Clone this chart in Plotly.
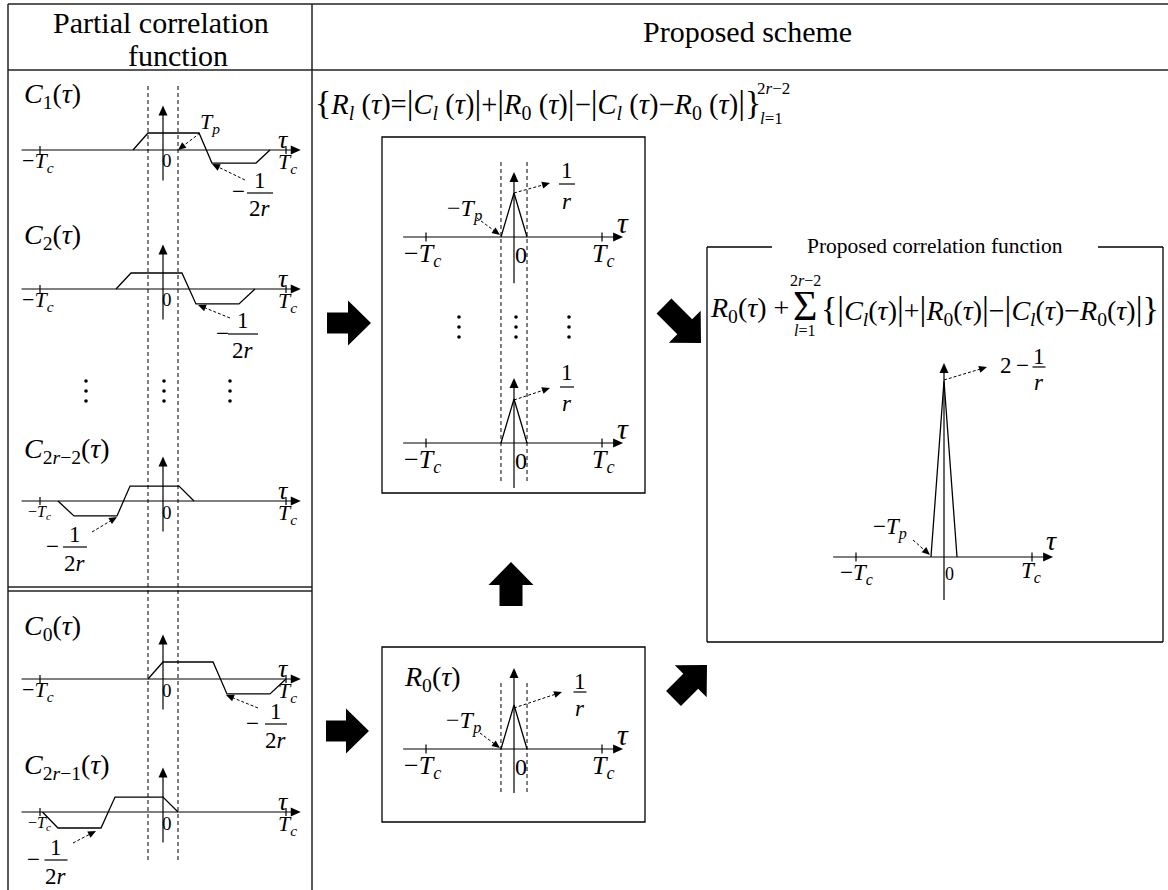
import plotly.graph_objects as go

W, H = 1168, 890
SERIF = "Liberation Serif, Times New Roman, serif"

# ---------------- data (tau in units of Tc, amplitude in arbitrary units) ----------------
tick_tau = [-1, 1]
Tp_left = 0.122
Tp_mid = 0.148

tau_C1 = [-0.244, -0.122, 0.293, 0.398, 0.756, 0.870]
amp_C1 = [0, 1.0, 1.0, -0.77, -0.77, 0]
tau_C2 = [-0.382, -0.260, 0.154, 0.268, 0.618, 0.748]
amp_C2 = [0, 0.94, 0.94, -0.88, -0.88, 0]
tau_C2r2 = [-0.854, -0.724, -0.374, -0.268, 0.130, 0.252]
amp_C2r2 = [0, -0.88, -0.88, 0.88, 0.88, 0]
tau_C0 = [-0.122, 0.0, 0.407, 0.520, 0.870, 1.0]
amp_C0 = [0, 1.0, 1.0, -0.88, -0.88, 0]
tau_C2r1 = [-0.98, -0.854, -0.504, -0.390, 0.0, 0.122]
amp_C2r1 = [0, -0.94, -0.94, 0.88, 0.88, 0]

tau_R = [-0.148, 0.0, 0.148]
amp_R = [0, 1.0, 0]          # peak = 1/r
tau_final = [-0.148, 0.0, 0.148]
amp_final = [0, 4.0, 0]      # peak = 2 - 1/r

header_left = ["Partial correlation", "function"]
header_right = "Proposed scheme"
box_title = "Proposed correlation function"

# ---------------- helpers ----------------
fig = go.Figure()
shapes, annotations = [], []


def X(px):
    return px / W


def Y(py):
    return 1 - py / H


def line(x0, y0, x1, y1, width=1.3, dash=None, color="black"):
    shapes.append(dict(type="line", xref="paper", yref="paper",
                       x0=X(x0), y0=Y(y0), x1=X(x1), y1=Y(y1),
                       line=dict(color=color, width=width, dash=dash)))


def text(x, y, s, size, xanchor="center"):
    annotations.append(dict(xref="paper", yref="paper", x=X(x), y=Y(y), text=s,
                            showarrow=False, xanchor=xanchor, yanchor="middle",
                            font=dict(family=SERIF, size=size, color="black")))


def poly(pts):
    path = "M " + " L ".join(f"{X(x):.5f},{Y(y):.5f}" for x, y in pts) + " Z"
    shapes.append(dict(type="path", xref="paper", yref="paper", path=path,
                       fillcolor="black", line=dict(color="black", width=0)))


def tri(x0, y0, x1, y1, L=9, hw=3.8):
    dx, dy = x1 - x0, y1 - y0
    d = (dx * dx + dy * dy) ** 0.5
    ux, uy = dx / d, dy / d
    nx, ny = -uy, ux
    bx, by = x1 - ux * L, y1 - uy * L
    poly([(x1, y1), (bx + nx * hw, by + ny * hw), (bx - nx * hw, by - ny * hw)])


def dashed_arrow(x0, y0, x1, y1):
    dx, dy = x1 - x0, y1 - y0
    d = (dx * dx + dy * dy) ** 0.5
    line(x0, y0, x1 - dx / d * 6, y1 - dy / d * 6, width=1, dash="3px,2px")
    tri(x0, y0, x1, y1, L=8, hw=3.5)


def frac(cx, bar_y, num, den, size=23, w=24, minus_x=None, ndy=13, ddy=16):
    text(cx, bar_y - ndy, num, size)
    line(cx - w / 2, bar_y, cx + w / 2, bar_y, width=1.2)
    text(cx, bar_y + ddy, den, size)
    if minus_x is not None:
        text(minus_x, bar_y - 1, "−", size)


def block_arrow(tx, ty, hx, hy, bw=10.5, hw=22.5, hl=23):
    dx, dy = hx - tx, hy - ty
    L = (dx * dx + dy * dy) ** 0.5
    ux, uy = dx / L, dy / L
    nx, ny = -uy, ux
    bx, by = hx - ux * hl, hy - uy * hl
    poly([(tx + nx * bw, ty + ny * bw), (bx + nx * bw, by + ny * bw), (bx + nx * hw, by + ny * hw),
          (hx, hy), (bx - nx * hw, by - ny * hw), (bx - nx * bw, by - ny * bw), (tx - nx * bw, ty - ny * bw)])


def dots(x, ys):
    for y in ys:
        shapes.append(dict(type="circle", xref="paper", yref="paper",
                           x0=X(x - 1.8), x1=X(x + 1.8), y0=Y(y + 1.8), y1=Y(y - 1.8),
                           fillcolor="black", line=dict(width=0)))


def big(ch, size=34):
    return f'<span style="font-size:{size}px">{ch}</span>'


TC = "<i>T</i><sub><i>c</i></sub>"
MTC = "−<i>T</i><sub><i>c</i></sub>"
MTP = "−<i>T</i><sub><i>p</i></sub>"
TAU = "<i>τ</i>"

panel_count = [0]


def panel(cx, cy, sx, sy, xr, yr, tau, amp, hax, vax, tick_h):
    panel_count[0] += 1
    i = panel_count[0]
    xa, ya = ("x", "y") if i == 1 else (f"x{i}", f"y{i}")
    kx, ky = ("xaxis", "yaxis") if i == 1 else (f"xaxis{i}", f"yaxis{i}")
    fig.update_layout(**{
        kx: dict(domain=[X(cx + xr[0] * sx), X(cx + xr[1] * sx)], range=xr,
                 visible=False, anchor=ya, fixedrange=True),
        ky: dict(domain=[Y(cy - yr[0] * sy), Y(cy - yr[1] * sy)], range=yr,
                 visible=False, anchor=xa, fixedrange=True),
    })
    fig.add_trace(go.Scatter(x=tau, y=amp, mode="lines", xaxis=xa, yaxis=ya,
                             line=dict(color="black", width=1.3),
                             hoverinfo="skip", showlegend=False))
    ax_line = dict(color="black", width=1.2)
    shapes.append(dict(type="line", xref=xa, yref=ya, x0=hax[0], x1=hax[1] - 6 / sx, y0=0, y1=0, line=ax_line))
    shapes.append(dict(type="line", xref=xa, yref=ya, x0=0, x1=0, y0=vax[0], y1=vax[1] - 6 / sy, line=ax_line))
    for t in tick_tau:
        shapes.append(dict(type="line", xref=xa, yref=ya, x0=t, x1=t, y0=-tick_h, y1=tick_h, line=ax_line))
    tip_x = cx + hax[1] * sx
    tri(tip_x - 20, cy, tip_x, cy, L=10, hw=4.5)
    tip_y = cy - vax[1] * sy
    tri(cx, tip_y + 20, cx, tip_y, L=10, hw=4.5)


# ---------------- table ----------------
TBL = "#222222"
line(8, 4, 1168, 4, 1.5, color=TBL)
line(8, 70, 1168, 70, 1.5, color=TBL)
line(8, 4, 8, 890, 1.5, color=TBL)
line(312, 4, 312, 890, 1.5, color=TBL)
line(8, 587, 312, 587, 1.3, color=TBL)
line(8, 591, 312, 591, 1.3, color=TBL)

text(161, 23, header_left[0], 30)
text(178, 56, header_left[1], 30)
text(747, 31, header_right, 30)

# ---------------- left column ----------------
LCX, LSX, LSY = 163, 123, 17
LXR, LYR = [-1.3, 1.3], [-2.2, 3.0]
left = [
    (150, tau_C1, amp_C1, "<i>C</i><sub>1</sub>(<i>τ</i>)", 95, False),
    (289, tau_C2, amp_C2, "<i>C</i><sub>2</sub>(<i>τ</i>)", 237, False),
    (501, tau_C2r2, amp_C2r2, "<i>C</i><sub>2<i>r</i>−2</sub>(<i>τ</i>)", 451, True),
    (679, tau_C0, amp_C0, "<i>C</i><sub>0</sub>(<i>τ</i>)", 627, False),
    (812, tau_C2r1, amp_C2r1, "<i>C</i><sub>2<i>r</i>−1</sub>(<i>τ</i>)", 766, True),
]
for cy, tau, amp, lab, ly, small in left:
    panel(LCX, cy, LSX, LSY, LXR, LYR, tau, amp, [-1.15, 1.12], [-1.8, 2.62], 0.24)
    text(22, ly, lab, 28, xanchor="left")
    if small:
        text(39, cy + 11, MTC, 16)
    else:
        text(38, cy + 12, MTC, 22)
    text(167, cy + 11, "0", 19)
    text(287, cy + 13, TC, 22)
    text(283, cy - 11, TAU, 26)

for t in (-Tp_left, Tp_left):
    line(LCX + t * LSX, 86, LCX + t * LSX, 863, 1, dash="4px,3px")

text(210, 123, "<i>T</i><sub><i>p</i></sub>", 22)
dashed_arrow(200, 133, 178, 150)
frac(260, 193, "1", "2<i>r</i>", 23, 26, 238)
dashed_arrow(245, 180, 212, 164)
dots(86, [381, 391, 401]); dots(164, [381, 391, 401]); dots(230, [381, 391, 401])
frac(243, 334, "1", "2<i>r</i>", 23, 30, 222)
dashed_arrow(230, 318, 198, 305)
frac(75, 547, "1", "2<i>r</i>", 23, 24, 52)
dashed_arrow(92, 532, 117, 517)
frac(276, 724, "1", "2<i>r</i>", 23, 22, 252)
dashed_arrow(258, 708, 226, 695)
frac(56, 860, "1", "2<i>r</i>", 23, 23, 33)
dashed_arrow(73, 843, 96, 831)

# ---------------- middle column ----------------
B = big("|")
eq1 = (big("{") + "<i>R<sub>l</sub></i> (<i>τ</i>)=" + B + "<i>C<sub>l</sub></i> (<i>τ</i>)" + B + "+"
       + B + "<i>R</i><sub>0</sub> (<i>τ</i>)" + B + "−" + B + "<i>C<sub>l</sub></i> (<i>τ</i>)−"
       "<i>R</i><sub>0</sub> (<i>τ</i>)" + B + big("}"))
text(313, 104, eq1, 28.5, xanchor="left")
text(773, 88, "2<i>r</i>−2", 17)
text(771, 118, "<i>l</i>=1", 17)

shapes.append(dict(type="rect", xref="paper", yref="paper", x0=X(382), x1=X(645), y0=Y(493), y1=Y(137),
                   line=dict(color="black", width=1.3)))
shapes.append(dict(type="rect", xref="paper", yref="paper", x0=X(382), x1=X(645), y0=Y(822), y1=Y(647),
                   line=dict(color="black", width=1.3)))

MCX, MSX, MSY = 514, 88, 44
mid = [(237, [-1.05, 1.48], [-1.3, 1.7]), (443, [-1.02, 1.48], [-1.3, 1.7]), (749, [-1.0, 1.84], [-1.3, 2.0])]
for cy, vax, yr in mid:
    panel(MCX, cy, MSX, MSY, [-1.4, 1.4], yr, tau_R, amp_R, [-1.26, 1.24], vax, 0.1)
    text(422, cy + 18, MTC, 26)
    text(521, cy + 18, "0", 24)
    text(603, cy + 18, TC, 26)
    text(623, cy - 15, TAU, 30)

for t in (-Tp_mid, Tp_mid):
    line(MCX + t * MSX, 162, MCX + t * MSX, 483, 1, dash="4px,3px")
    line(MCX + t * MSX, 683, MCX + t * MSX, 793, 1, dash="4px,3px")

frac(567, 184, "1", "<i>r</i>", 23, 16, None, 14, 17)
dashed_arrow(514, 193, 550, 183)
text(464, 210, MTP, 24)
dashed_arrow(477, 218, 500, 235)
dots(459, [317, 327, 337]); dots(516, [317, 327, 337]); dots(569, [317, 327, 337])
frac(567, 387, "1", "<i>r</i>", 23, 14, None, 14, 16)
dashed_arrow(514, 400, 550, 388)

text(402, 678, "<i>R</i><sub>0</sub>(<i>τ</i>)", 28, xanchor="left")
frac(580, 692, "1", "<i>r</i>", 23, 13, None, 11, 16)
dashed_arrow(514, 708, 562, 692)
text(463, 722, MTP, 24)
dashed_arrow(480, 733, 500, 748)

block_arrow(327, 323, 371, 323)
block_arrow(326, 731, 369, 731)
block_arrow(511, 606, 511, 562, bw=11.5)
block_arrow(664, 306, 701, 343)
block_arrow(673.5, 698.5, 707, 665)

# ---------------- right box ----------------
line(707, 247, 772, 247, 1.3)
line(1098, 247, 1163, 247, 1.3)
line(707, 247, 707, 642, 1.3)
line(1163, 247, 1163, 642, 1.3)
line(707, 642, 1163, 642, 1.3)
text(935, 246, box_title, 21.5)

text(708, 310, "<i>R</i><sub>0</sub>(<i>τ</i>) +", 28, xanchor="left")
text(805, 306, "Σ", 42)
text(805, 280, "2<i>r</i>−2", 16)
text(804, 330, "<i>l</i>=1", 16)
eq2 = (big("{") + B + "<i>C<sub>l</sub></i>(<i>τ</i>)" + B + "+" + B + "<i>R</i><sub>0</sub>(<i>τ</i>)" + B
       + "−" + B + "<i>C<sub>l</sub></i>(<i>τ</i>)−<i>R</i><sub>0</sub>(<i>τ</i>)" + B + big("}"))
text(819, 310, eq2, 28, xanchor="left")

panel(944, 557, 88, 44, [-1.4, 1.4], [-1.3, 4.7], tau_final, amp_final, [-1.26, 1.24], [-0.98, 4.41], 0.1)
text(856, 574, MTC, 23)
text(949, 574, "0", 18)
text(1031, 572, TC, 23)
text(1051, 540, TAU, 28)
text(1006, 366, "2", 23)
text(1022, 366, "−", 23)
frac(1039, 367, "1", "<i>r</i>", 23, 13, None, 11, 15)
dashed_arrow(944, 380, 987, 367)
text(890, 528, MTP, 23)
dashed_arrow(913, 540, 930, 555)

fig.update_layout(width=W, height=H, margin=dict(l=0, r=0, t=0, b=0),
                  paper_bgcolor="white", plot_bgcolor="rgba(0,0,0,0)",
                  showlegend=False, shapes=shapes, annotations=annotations)
fig.write_html("out.html", config={"displayModeBar": False},
               post_script="document.body.style.margin='0';document.body.style.overflow='hidden';")
